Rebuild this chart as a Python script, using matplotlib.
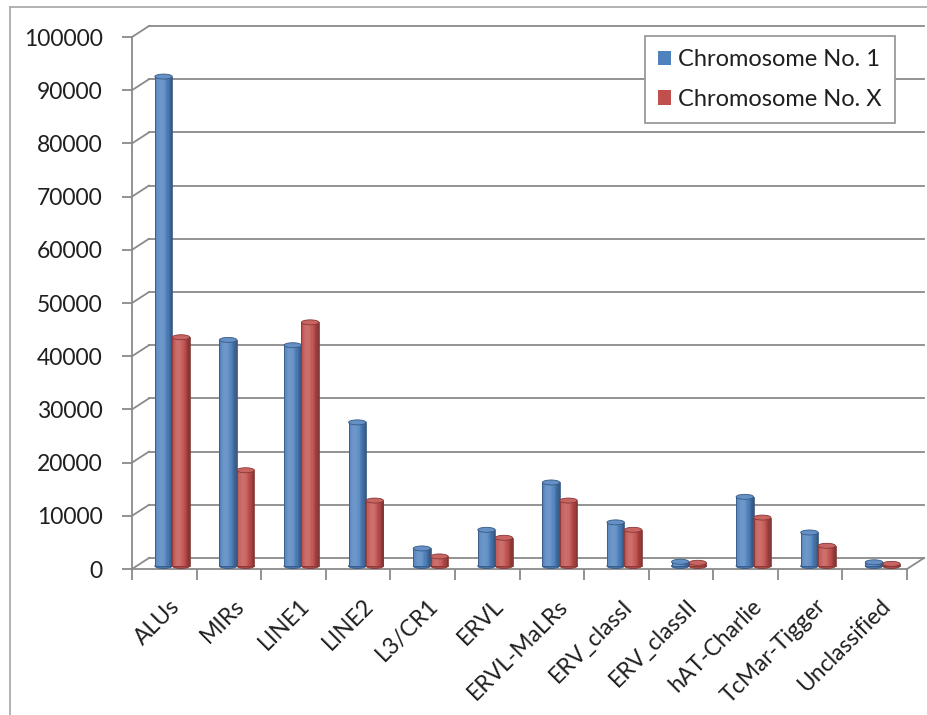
import numpy as np
import matplotlib.pyplot as plt
import matplotlib.transforms as mtransforms
from matplotlib.patches import Rectangle, Ellipse, Patch
from matplotlib.lines import Line2D
from matplotlib.colors import to_rgb

plt.rcParams['font.family'] = ['Lato', 'DejaVu Sans']

categories = ["ALUs", "MIRs", "LINE1", "LINE2", "L3/CR1", "ERVL", "ERVL-MaLRs",
              "ERV_classI", "ERV_classII", "hAT-Charlie", "TcMar-Tigger", "Unclassified"]
chr1 = [92000, 42500, 41500, 27000, 3300, 6800, 15700, 8200, 800, 13000, 6300, 700]
chrX = [43000, 18000, 45800, 12300, 1800, 5300, 12300, 6800, 600, 9100, 3800, 400]
series_names = ["Chromosome No. 1", "Chromosome No. X"]
y_ticks = np.arange(0, 100001, 10000)

colors = ["#4F81BD", "#C0504D"]
grid_col = "#8a8a8a"
txt_col = "#1f1f1f"

fig = plt.figure(figsize=(9.28, 7.15), dpi=100)
ax = fig.add_axes([132 / 928, 1 - 569 / 715, 775 / 928, 532 / 715])
ax.set_xlim(0, len(categories))
ax.set_ylim(0, 100000)
ax.set_autoscale_on(False)


def shifted(dx, dy):
    return ax.transData + mtransforms.ScaledTranslation(dx / fig.dpi, dy / fig.dpi, fig.dpi_scale_trans)


back = shifted(17, 11)
bar_tr = shifted(8, 3)

# back wall gridlines + side wall diagonals
for v in y_ticks:
    ax.add_line(Line2D([0, len(categories)], [v, v], transform=back, color=grid_col, lw=1.3,
                       clip_on=False, zorder=1))
    p0 = ax.transData.transform((0, v))
    ax.add_line(Line2D([p0[0], p0[0] + 17], [p0[1], p0[1] + 11],
                       transform=mtransforms.IdentityTransform(), color=grid_col, lw=1.3,
                       clip_on=False, zorder=1))
# right floor edge
p0 = ax.transData.transform((len(categories), 0))
ax.add_line(Line2D([p0[0], p0[0] + 17], [p0[1], p0[1] + 11],
                   transform=mtransforms.IdentityTransform(), color=grid_col, lw=1.3,
                   clip_on=False, zorder=1))


def mix(c, k):
    c = np.array(to_rgb(c))
    if k >= 0:
        return tuple(c + (1 - c) * k)
    return tuple(c * (1 + k))


px_per_unit = 532 / 100000
cap_h = 5 / px_per_unit
w = 0.27
n_strips = 14

for i in range(len(categories)):
    for s, vals in enumerate([chr1, chrX]):
        val = vals[i]
        base = colors[s]
        x0 = i + 0.5 - w + s * w
        z = 3 + i * 0.01 + s * 0.001
        # rounded bottom
        ax.add_patch(Ellipse((x0 + w / 2, 0), w, cap_h, transform=bar_tr,
                             facecolor=mix(base, -0.1), edgecolor=mix(base, -0.3), lw=0.6,
                             zorder=z, clip_on=False))
        for k in range(n_strips):
            t = (k + 0.5) / n_strips
            shade = 0.32 * np.cos(np.pi * (t - 0.35) * 1.1) - 0.14
            ax.add_patch(Rectangle((x0 + k * w / n_strips, 0), w / n_strips * 1.05, val,
                                   transform=bar_tr, facecolor=mix(base, shade), lw=0,
                                   zorder=z, clip_on=False))
        ax.add_patch(Rectangle((x0, 0), w, val, transform=bar_tr, facecolor='none',
                               edgecolor=mix(base, -0.3), lw=0.6, zorder=z, clip_on=False))
        ax.add_patch(Ellipse((x0 + w / 2, val), w, cap_h, transform=bar_tr,
                             facecolor=mix(base, 0.12), edgecolor=mix(base, -0.3), lw=0.6,
                             zorder=z, clip_on=False))

# axes
for side in ['top', 'right']:
    ax.spines[side].set_visible(False)
for side in ['left', 'bottom']:
    ax.spines[side].set_color(grid_col)
    ax.spines[side].set_linewidth(1.3)
    ax.spines[side].set_zorder(2)

ax.set_yticks(y_ticks)
ax.set_yticklabels([str(v) for v in y_ticks])
ax.tick_params(axis='y', length=7, width=1.3, color=grid_col, labelsize=16.5,
               labelcolor=txt_col, pad=14)

ax.set_xticks(np.arange(len(categories) + 1))
ax.set_xticklabels([])
ax.set_xticks(np.arange(len(categories)) + 0.5, minor=True)
ax.set_xticklabels(categories, minor=True, rotation=45, ha='right', va='top',
                   rotation_mode='anchor')
ax.tick_params(axis='x', which='major', length=8, width=1.3, color=grid_col, direction='out')
ax.tick_params(axis='x', which='minor', length=0, labelsize=16.5, labelcolor=txt_col, pad=19)
lab_off = mtransforms.ScaledTranslation(5 / fig.dpi, 0, fig.dpi_scale_trans)
for lab in ax.get_xticklabels(minor=True):
    lab.set_transform(lab.get_transform() + lab_off)

handles = [Patch(facecolor=c, edgecolor='none') for c in colors]
leg = ax.legend(handles, series_names, loc='upper left', bbox_to_anchor=(645 / 928, 1 - 36 / 715),
                bbox_transform=fig.transFigure, borderaxespad=0, fontsize=17, frameon=True,
                fancybox=False, edgecolor='#9a9a9a', framealpha=1, handlelength=0.55,
                handleheight=0.55, handletextpad=0.3, labelspacing=0.8, borderpad=0.55,
                labelcolor=txt_col)
leg.get_frame().set_linewidth(1.3)
leg.set_zorder(10)

# outer chart border
fig.add_artist(Line2D([10 / 928, 10 / 928], [0, 1 - 7 / 715], transform=fig.transFigure,
                      color='#a6a6a6', lw=1.2))
fig.add_artist(Line2D([10 / 928, 1], [1 - 7 / 715, 1 - 7 / 715], transform=fig.transFigure,
                      color='#a6a6a6', lw=1.2))

fig.savefig("out.png", dpi=100)
